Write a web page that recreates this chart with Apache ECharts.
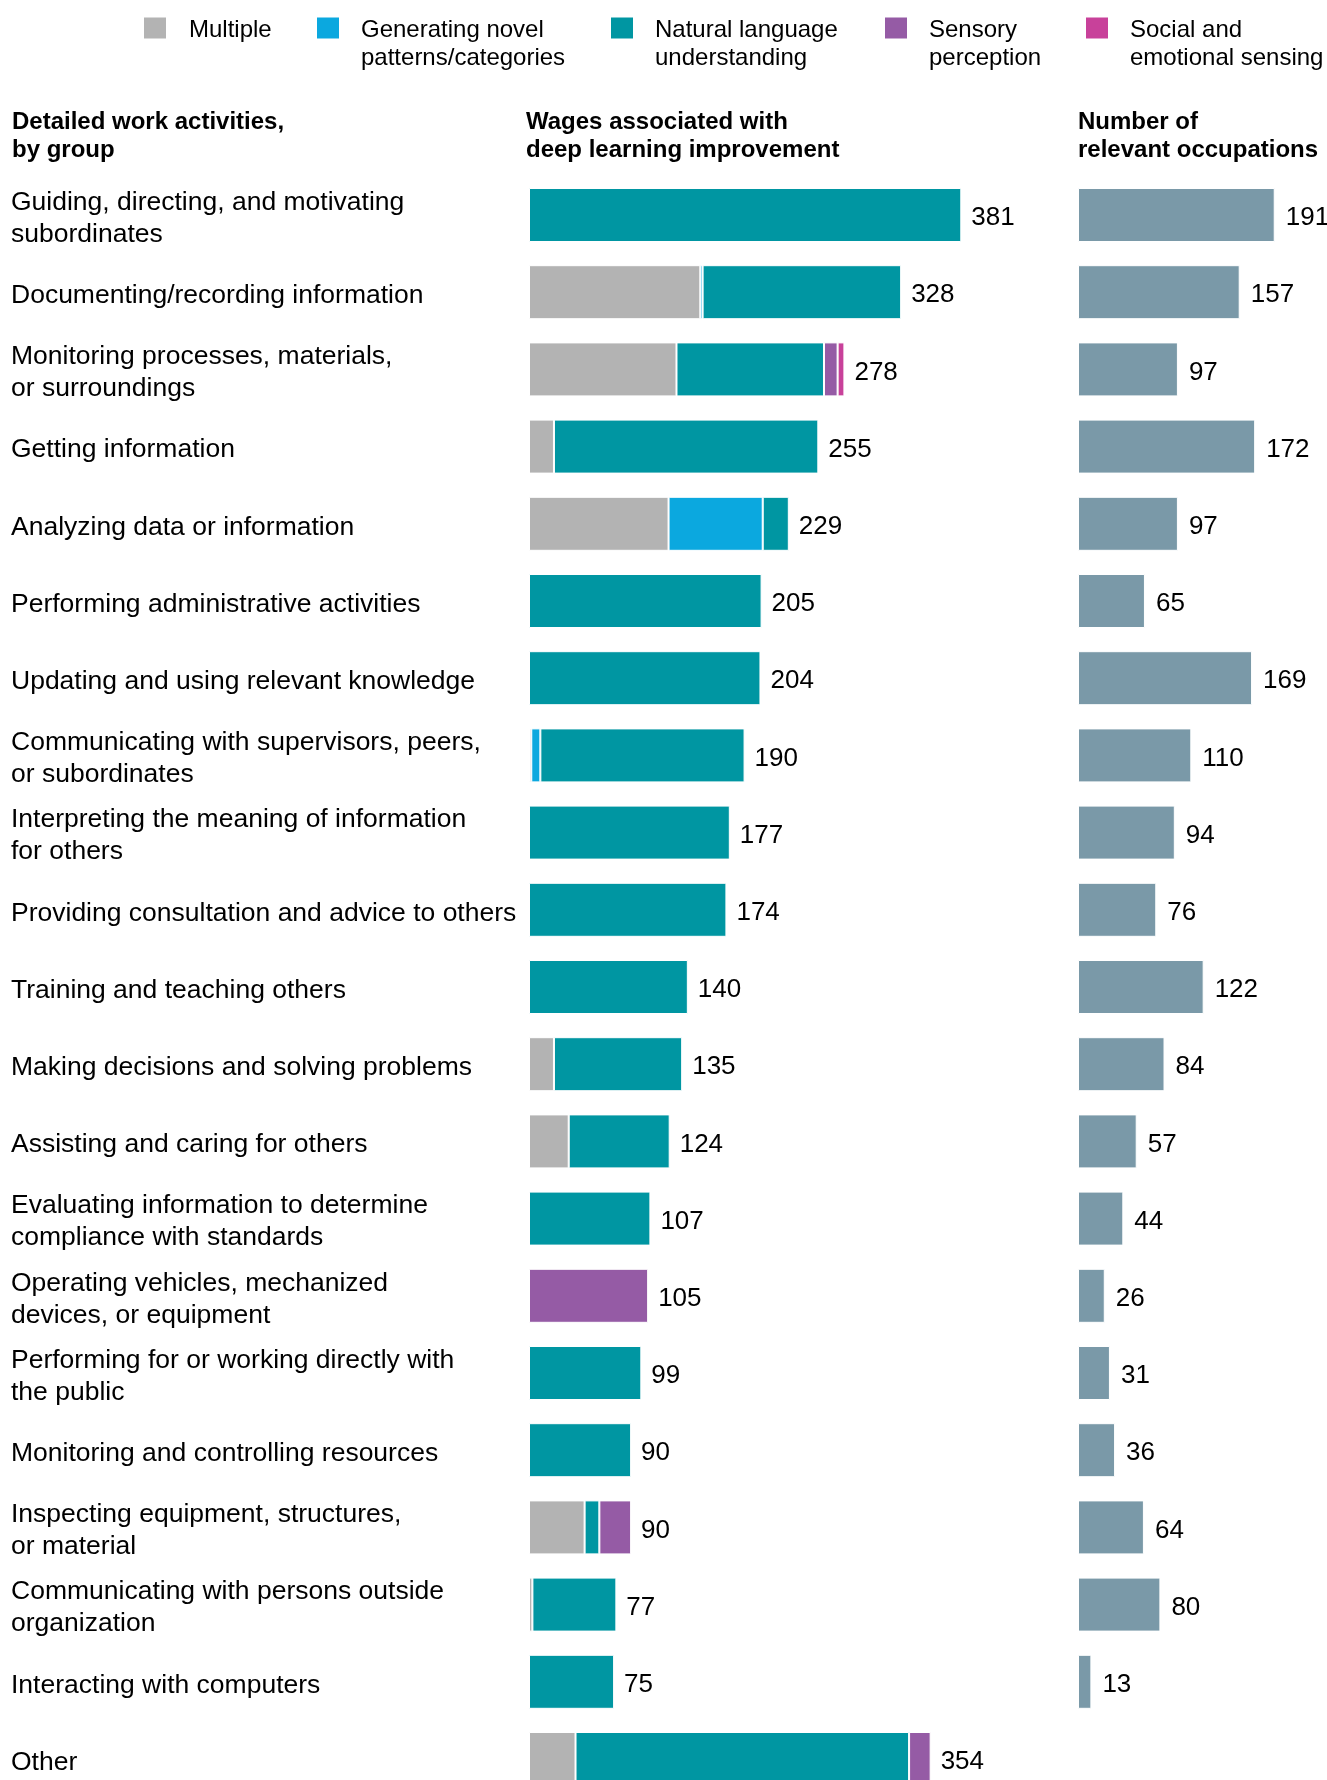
<!DOCTYPE html>
<html><head><meta charset="utf-8">
<script src="https://cdn.jsdelivr.net/npm/echarts@6/dist/echarts.min.js"></script>
<style>html,body{margin:0;padding:0;background:#fff}#c{width:1327px;height:1780px}</style>
</head><body><div id="c"></div>
<script>
const categories = [
  "Guiding, directing, and motivating\nsubordinates",
  "Documenting/recording information",
  "Monitoring processes, materials,\nor surroundings",
  "Getting information",
  "Analyzing data or information",
  "Performing administrative activities",
  "Updating and using relevant knowledge",
  "Communicating with supervisors, peers,\nor subordinates",
  "Interpreting the meaning of information\nfor others",
  "Providing consultation and advice to others",
  "Training and teaching others",
  "Making decisions and solving problems",
  "Assisting and caring for others",
  "Evaluating information to determine\ncompliance with standards",
  "Operating vehicles, mechanized\ndevices, or equipment",
  "Performing for or working directly with\nthe public",
  "Monitoring and controlling resources",
  "Inspecting equipment, structures,\nor material",
  "Communicating with persons outside\norganization",
  "Interacting with computers",
  "Other"
];
const multiple = [0,151,130,22,123,0,0,2,0,0,0,22,35,0,0,0,0,49,3,0,41];
const novelPatterns = [0,2,0,0,83,0,0,8,0,0,0,0,0,0,0,0,0,0,0,0,0];
const naturalLanguage = [381,175,130,233,23,205,204,180,177,174,140,113,89,107,0,99,90,13,74,75,294];
const sensory = [0,0,12,0,0,0,0,0,0,0,0,0,0,0,105,0,0,28,0,0,19];
const socialEmotional = [0,0,6,0,0,0,0,0,0,0,0,0,0,0,0,0,0,0,0,0,0];
const wageTotals = [381,328,278,255,229,205,204,190,177,174,140,135,124,107,105,99,90,90,77,75,354];
const occupations = [191,157,97,172,97,65,169,110,94,76,122,84,57,44,26,31,36,64,80,13,null];

const segNames = ["Multiple","Generating novel patterns/categories","Natural language understanding","Sensory perception","Social and emotional sensing"];
const segLegend = ["Multiple","Generating novel\npatterns/categories","Natural language\nunderstanding","Sensory\nperception","Social and\nemotional sensing"];
const segData = [multiple, novelPatterns, naturalLanguage, sensory, socialEmotional];
const segColors = ["#B3B3B3","#0BA8DF","#0096A2","#955BA5","#C8419A"];

const FF = "'Liberation Sans', Arial, Helvetica, sans-serif";
const chart = echarts.init(document.getElementById('c'), null, {renderer:'canvas'});

const gridTop = 176.4, gridH = 21*77.2;
const legendX = [142, 315, 609, 883, 1084];
const legendTextX = [188, 360, 654, 928, 1129];

function richLines(text, spacer){
  return '{' + spacer + '|}\n' + text.split('\n').map(l => '{t|' + l + '}').join('\n');
}

const legends = segNames.map((n,i)=>{
  const twoLine = segLegend[i].indexOf('\n')>=0;
  return {
    data:[n], left: legendX[i], top: twoLine ? -16.5 : 11.5, padding:0,
    itemWidth:24, itemHeight:23, icon:'rect', selectedMode:false,
    formatter: ()=> richLines(segLegend[i], twoLine ? 'big' : 'small'),
    textStyle:{fontFamily:FF, fontSize:24, lineHeight:28, color:'#000',
      padding:[0,0,0,legendTextX[i]-legendX[i]-29],
      rich:{
        t:{fontFamily:FF, fontSize:24, lineHeight:28, color:'#000'},
        big:{fontSize:1, lineHeight:33},
        small:{fontSize:1, lineHeight:5}
      }}
  };
});

const series = segNames.map((n,i)=>({
  name:n, type:'bar', stack:'w', xAxisIndex:0, yAxisIndex:0,
  barWidth:54, barGap:'-100%',
  itemStyle:{color:segColors[i], borderColor:'#fff', borderWidth:1},
  data: segData[i].map(v=> v ? v : '-')
}));
series.push({
  name:'Wages total', type:'bar', xAxisIndex:0, yAxisIndex:0, barWidth:54, barGap:'-100%',
  itemStyle:{color:'rgba(0,0,0,0)'}, silent:true, z:1,
  label:{show:true, position:'right', distance:10, offset:[0,3], fontFamily:FF, fontSize:26, color:'#000'},
  data: wageTotals
});
series.push({
  name:'Number of relevant occupations', type:'bar', xAxisIndex:1, yAxisIndex:1, barWidth:54,
  itemStyle:{color:'#7A99A8', borderColor:'#fff', borderWidth:1},
  label:{show:true, position:'right', distance:11, offset:[0,3], fontFamily:FF, fontSize:26, color:'#000'},
  data: occupations
});

const hdr = {fontFamily:FF, fontSize:24, fontWeight:'bold', lineHeight:28, color:'#000'};
chart.setOption({
  animation:false,
  backgroundColor:'#fff',
  title:[
    {text:'Detailed work activities,\nby group', left:12, top:108, padding:0, textStyle:hdr},
    {text:'Wages associated with\ndeep learning improvement', left:526, top:108, padding:0, textStyle:hdr},
    {text:'Number of\nrelevant occupations', left:1078, top:108, padding:0, textStyle:hdr}
  ],
  legend: legends,
  grid:[
    {left:529, top:gridTop, width:400*1.1346, height:gridH, containLabel:false, outerBoundsMode:'none'},
    {left:1078, top:gridTop, width:200*1.03, height:gridH, containLabel:false, outerBoundsMode:'none'}
  ],
  xAxis:[
    {gridIndex:0, type:'value', min:0, max:400, show:false},
    {gridIndex:1, type:'value', min:0, max:200, show:false}
  ],
  yAxis:[
    {gridIndex:0, type:'category', data:categories, inverse:true,
      axisLine:{show:false}, axisTick:{show:false}, splitLine:{show:false},
      axisLabel:{align:'left', margin:518, fontFamily:FF, fontSize:26.5, lineHeight:32, color:'#000', interval:0,
        formatter: v => richLines(v, 's'),
        rich:{
          t:{fontFamily:FF, fontSize:26.5, lineHeight:32, color:'#000', align:'left'},
          s:{fontSize:1, lineHeight:7}
        }}},
    {gridIndex:1, type:'category', data:categories, inverse:true, show:false}
  ],
  series: series
});
</script>
</body></html>
